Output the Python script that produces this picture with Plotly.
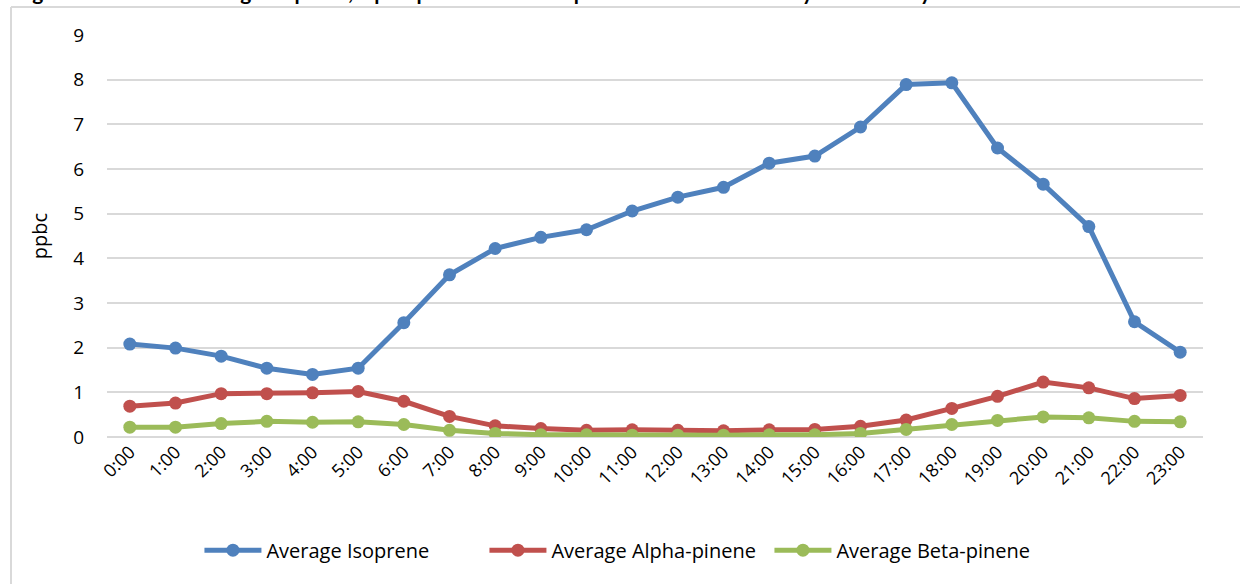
import plotly.graph_objects as go

hours = [f"{h}:00" for h in range(24)]
isoprene = [2.08, 1.99, 1.81, 1.54, 1.40, 1.54, 2.56, 3.63, 4.22, 4.47, 4.64, 5.06, 5.37, 5.59,
            6.13, 6.29, 6.94, 7.89, 7.93, 6.47, 5.66, 4.71, 2.58, 1.90]
alpha_pinene = [0.69, 0.76, 0.97, 0.97, 0.99, 1.02, 0.80, 0.46, 0.25, 0.19, 0.15, 0.16, 0.15, 0.14,
                0.16, 0.17, 0.24, 0.38, 0.64, 0.91, 1.23, 1.10, 0.86, 0.93]
beta_pinene = [0.22, 0.22, 0.30, 0.35, 0.33, 0.34, 0.28, 0.15, 0.08, 0.05, 0.05, 0.04, 0.04, 0.04,
               0.05, 0.05, 0.08, 0.17, 0.28, 0.37, 0.45, 0.43, 0.35, 0.34]
series_names = ["Average Isoprene", "Average Alpha-pinene", "Average Beta-pinene"]
colors = ["#4F81BD", "#C0504D", "#9BBB59"]
title_text = ("Figure S3: Diurnal Average Isoprene, alpha-pinene and beta-pinene "
              "Concentrations by Hour of Day")

FONT = "Open Sans"

fig = go.Figure()
for name, vals, col in zip(series_names, [isoprene, alpha_pinene, beta_pinene], colors):
    fig.add_trace(go.Scatter(
        x=hours, y=vals, name=name, mode="lines+markers",
        line=dict(color=col, width=5),
        marker=dict(color=col, size=13),
    ))

fig.update_layout(
    width=1240, height=584,
    paper_bgcolor="white", plot_bgcolor="white",
    margin=dict(l=107, r=37, t=35, b=147),
    font=dict(family=FONT, size=18, color="#000000"),
    showlegend=True,
    legend=dict(orientation="h", x=0.5056, xanchor="center", xref="container",
                y=0.058, yanchor="middle", yref="container",
                font=dict(family=FONT, size=20), itemwidth=57,
                entrywidth=213, entrywidthmode="pixels", traceorder="normal"),
    xaxis=dict(type="category", range=[-0.5, 23.5], tickangle=-45, showgrid=False,
               showline=False, ticks="", tickfont=dict(family=FONT, size=18)),
    yaxis=dict(range=[0, 9], dtick=1, showgrid=True, gridcolor="#D9D9D9", gridwidth=1.5,
               zeroline=True, zerolinecolor="#D9D9D9", zerolinewidth=1.5,
               showline=False, ticks="", ticklabelstandoff=22,
               title=dict(text="ppbc", font=dict(family=FONT, size=20), standoff=20),
               tickfont=dict(family=FONT, size=19)),
)

# chart-area border (left and top edges)
fig.add_shape(type="line", xref="paper", yref="paper", x0=-0.0876, x1=1.2, y0=1.0697, y1=1.0697,
              line=dict(color="#D9D9D9", width=2))
fig.add_shape(type="line", xref="paper", yref="paper", x0=-0.0876, x1=-0.0876, y0=1.0697, y1=-0.6,
              line=dict(color="#D9D9D9", width=2))

# title (clipped at the top edge, as in the reference)
fig.add_annotation(text="<b>" + title_text + "</b>", xref="paper", yref="paper",
                   x=-0.0876, y=1.0697, xanchor="left", yanchor="bottom", showarrow=False,
                   font=dict(family="Lato", size=21, color="#000000"), xshift=2, yshift=1)

fig.write_html("out.html", post_script="document.body.style.margin='0';",
               config={"displayModeBar": False})
